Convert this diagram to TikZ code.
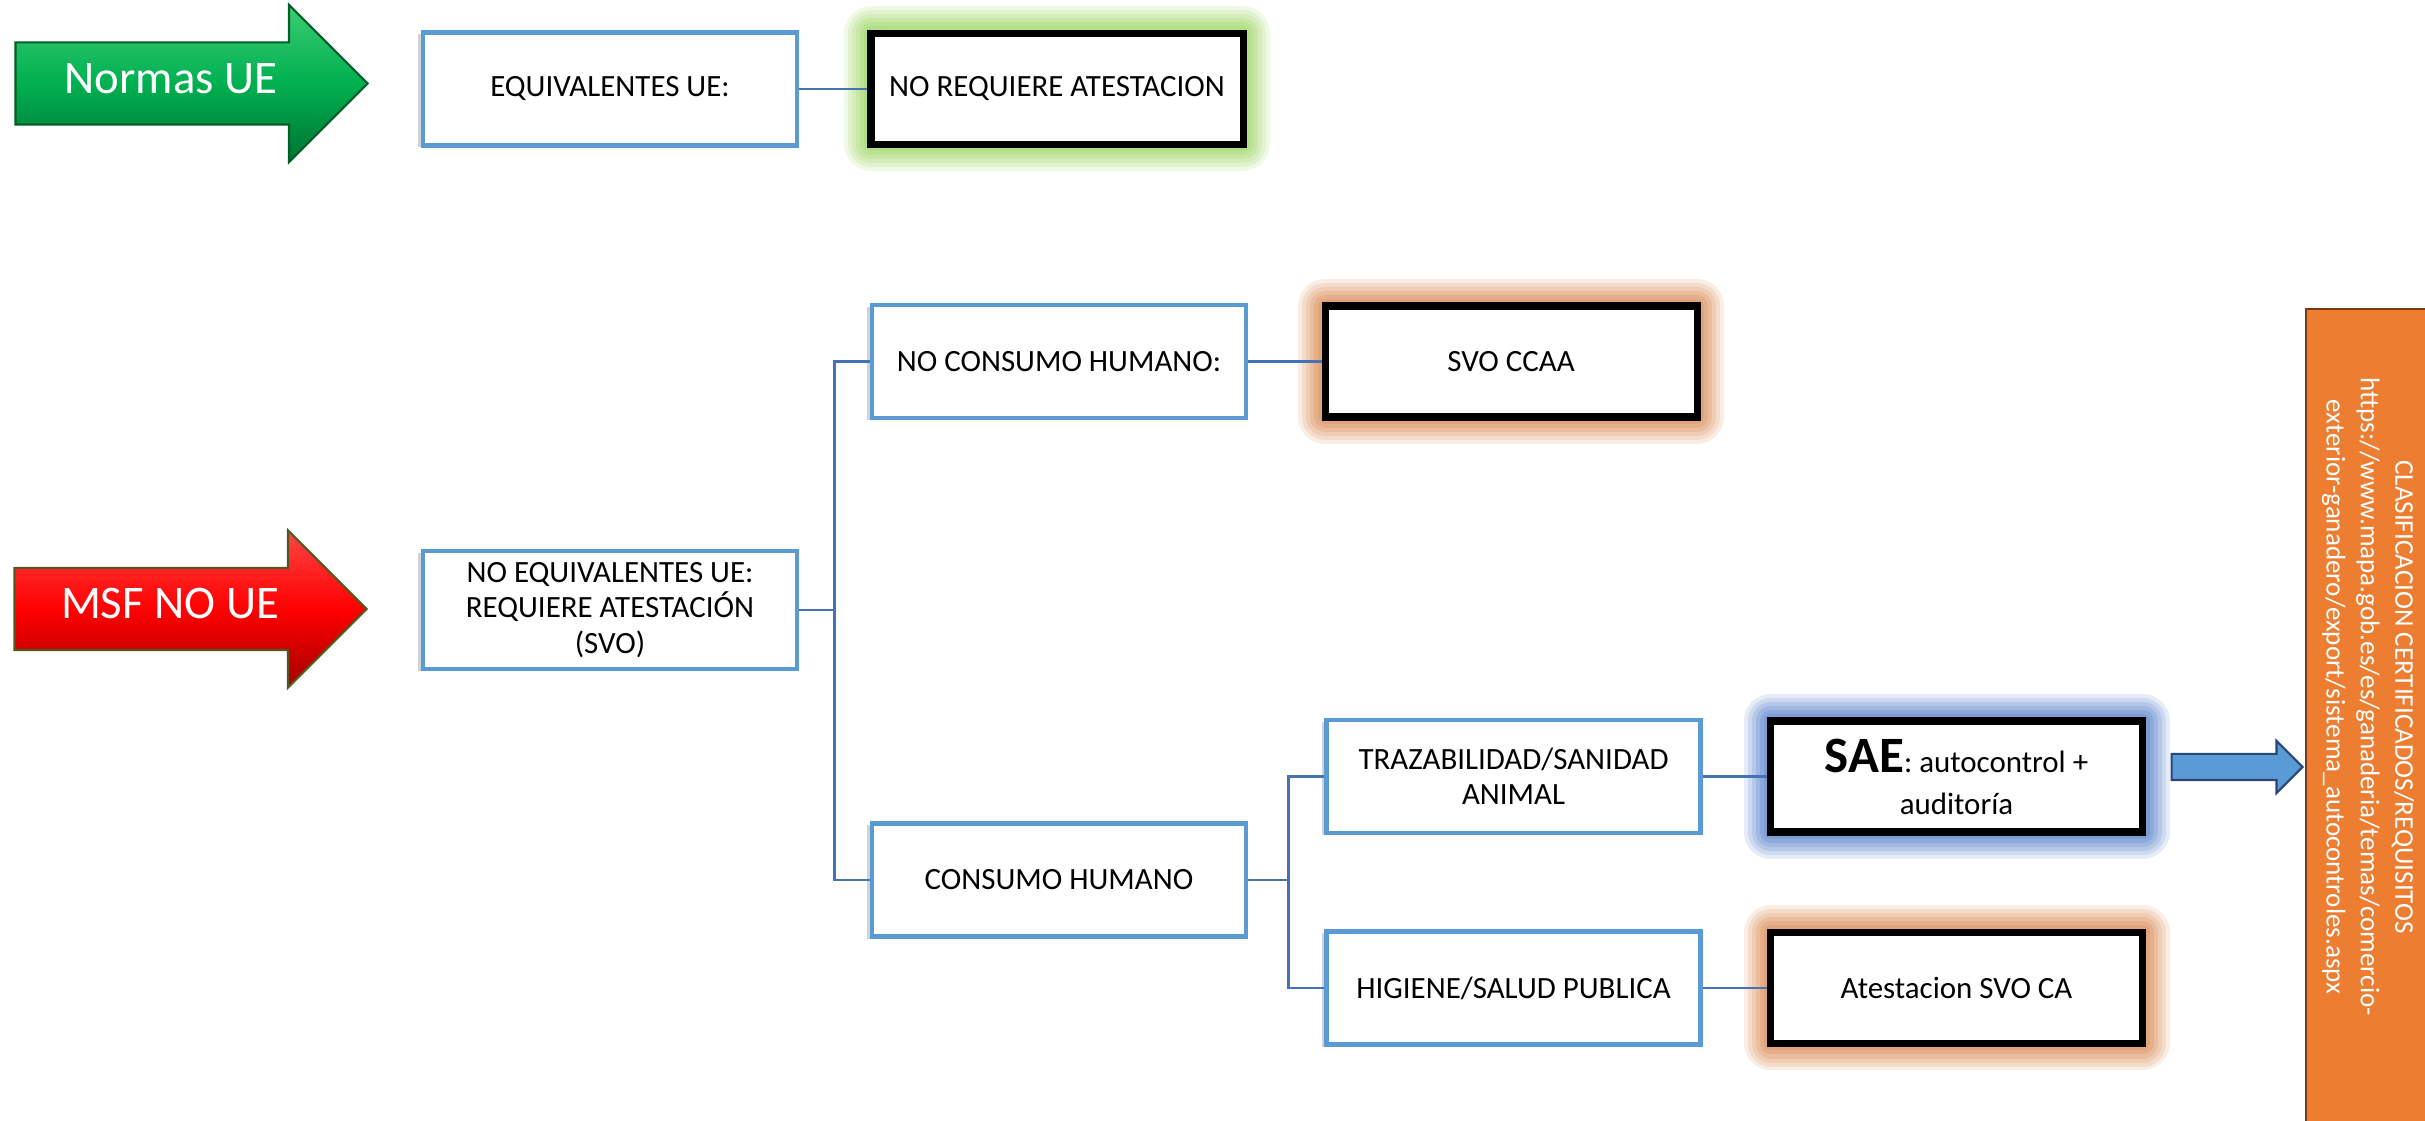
\documentclass[tikz,border=0pt]{standalone}
\usepackage{fontspec}
\setmainfont{Carlito}
\usepackage{tikz}
\usetikzlibrary{shapes.arrows,shadows}

\definecolor{cajaazul}{RGB}{91,155,213}
\definecolor{lineaazul}{RGB}{68,114,180}
\definecolor{verdeue}{RGB}{0,176,80}
\definecolor{verdeclaro}{RGB}{60,205,115}
\definecolor{verdeoscuro}{RGB}{0,115,50}
\definecolor{verdeborde}{RGB}{0,95,40}
\definecolor{rojoue}{RGB}{255,0,0}
\definecolor{rojoclaro}{RGB}{255,70,70}
\definecolor{rojooscuro}{RGB}{165,0,0}
\definecolor{rojoborde}{RGB}{80,90,30}
\definecolor{verdebrillo}{RGB}{146,208,80}
\definecolor{naranjabrillo}{RGB}{214,125,65}
\definecolor{azulbrillo}{RGB}{68,114,196}
\definecolor{naranja}{RGB}{237,125,49}
\definecolor{naranjaborde}{RGB}{120,60,20}
\definecolor{azuloscuro}{RGB}{40,70,120}

\begin{document}
\begin{tikzpicture}[
  caja/.style={draw=cajaazul, line width=1.2pt, fill=white, minimum width=3.74cm, minimum height=1.13cm, align=center, font=\fontsize{8.8}{10}\selectfont, drop shadow={shadow xshift=-0.05cm, shadow yshift=-0.02cm, opacity=0.35}},
  resultado/.style={draw=black, line width=2pt, fill=white, minimum width=3.72cm, minimum height=1.11cm, align=center, font=\fontsize{8.8}{10}\selectfont,
    preaction={draw=#1, draw opacity=0.14, line width=0.54cm, line join=round},
    preaction={draw=#1, draw opacity=0.15, line width=0.46cm, line join=round},
    preaction={draw=#1, draw opacity=0.17, line width=0.38cm, line join=round},
    preaction={draw=#1, draw opacity=0.19, line width=0.30cm, line join=round},
    preaction={draw=#1, draw opacity=0.21, line width=0.22cm, line join=round},
    preaction={draw=#1, draw opacity=0.23, line width=0.14cm, line join=round}},
  flecha/.style={single arrow, single arrow head extend=0.375cm, text height=0.3cm, text depth=0.1cm, inner ysep=0.2cm, minimum height=3.52cm, text=white, font=\fontsize{13.3}{16}\selectfont, line width=0.6pt},
  enlace/.style={draw=lineaazul, line width=0.8pt}
]
\useasboundingbox (0,0) rectangle (24.25,11.20);

\node[flecha, draw=verdeborde, top color=verdeclaro, bottom color=verdeoscuro, middle color=verdeue] (normas) at (1.71,10.365) {Normas UE};
\node[flecha, draw=rojoborde, top color=rojoclaro, bottom color=rojooscuro, middle color=rojoue] (msf) at (1.70,5.11) {MSF NO UE};

\node[caja] (equiv) at (6.10,10.31) {EQUIVALENTES UE:};
\node[resultado=verdebrillo] (norequiere) at (10.57,10.31) {NO REQUIERE ATESTACION};

\node[caja, minimum height=1.14cm] (noequiv) at (6.10,5.10) {NO EQUIVALENTES UE:\\REQUIERE ATESTACIÓN\\(SVO)};
\node[caja] (noconsumo) at (10.59,7.585) {NO CONSUMO HUMANO:};
\node[caja] (consumo) at (10.59,2.40) {CONSUMO HUMANO};
\node[resultado=naranjabrillo] (svoccaa) at (15.11,7.585) {SVO CCAA};

\node[caja] (traz) at (15.135,3.435) {TRAZABILIDAD/SANIDAD\\ANIMAL};
\node[caja] (higiene) at (15.135,1.32) {HIGIENE/SALUD PUBLICA};
\node[resultado=azulbrillo] (sae) at (19.565,3.435) {{\fontsize{14.5}{17}\selectfont\bfseries SAE}: autocontrol +\\[2pt]auditoría};
\node[resultado=naranjabrillo] (atest) at (19.565,1.32) {Atestacion SVO CA};

\node[single arrow, single arrow head extend=0.13cm, fill=cajaazul, draw=azuloscuro, line width=0.6pt, inner sep=0pt, inner ysep=0.12cm, minimum height=1.31cm, text height=0pt, text depth=0pt] (hacia) at (22.305,3.53) {};

\filldraw[fill=naranja, draw=naranjaborde, line width=0.6pt] (23.06,-0.2) rectangle (24.5,8.11);
\node[rotate=-90, text=white, align=center, font=\fontsize{7.7}{9.8}\selectfont] (clasif) at (23.68,4.23) {CLASIFICACION CERTIFICADOS/REQUISITOS\\https://www.mapa.gob.es/es/ganaderia/temas/comercio-\\exterior-ganadero/export/sistema\_autocontroles.aspx};

\draw[enlace] (equiv.east) -- (norequiere.west);
\draw[enlace] (noequiv.east) -- ++(0.35,0) |- (noconsumo.west);
\draw[enlace] (noequiv.east) -- ++(0.35,0) |- (consumo.west);
\draw[enlace] (noconsumo.east) -- (svoccaa.west);
\draw[enlace] (consumo.east) -- ++(0.40,0) |- (traz.west);
\draw[enlace] (consumo.east) -- ++(0.40,0) |- (higiene.west);
\draw[enlace] (traz.east) -- (sae.west);
\draw[enlace] (higiene.east) -- (atest.west);
\end{tikzpicture}
\end{document}
